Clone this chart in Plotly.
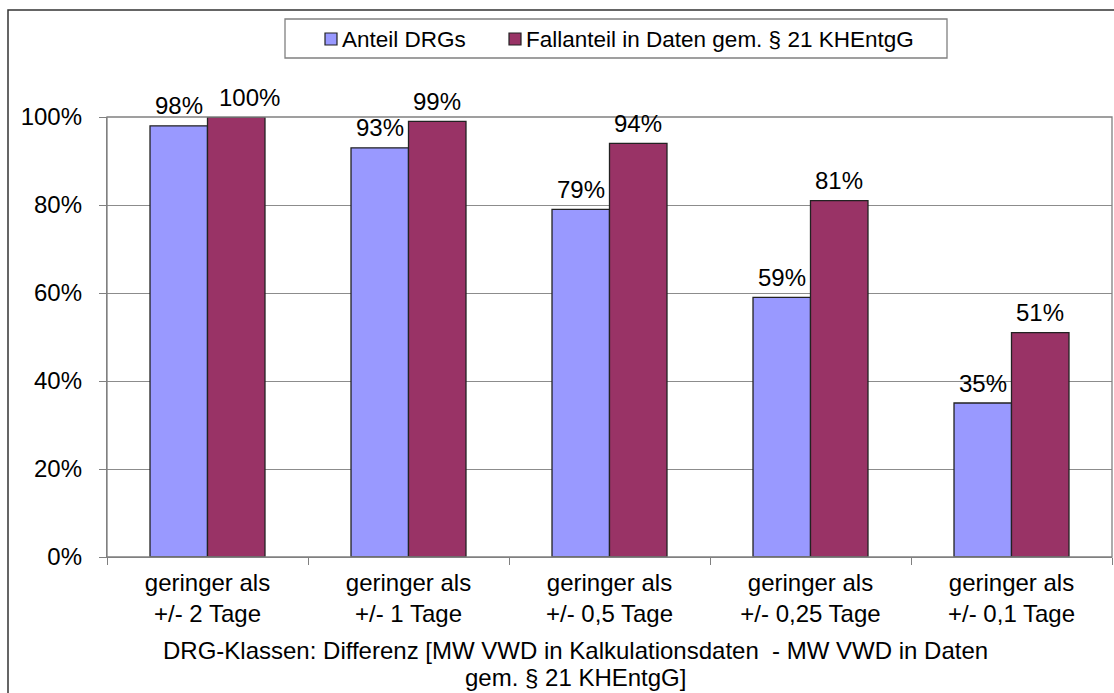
import plotly.graph_objects as go

categories = [
    "geringer als<br>+/- 2 Tage",
    "geringer als<br>+/- 1 Tage",
    "geringer als<br>+/- 0,5 Tage",
    "geringer als<br>+/- 0,25 Tage",
    "geringer als<br>+/- 0,1 Tage",
]
series_names = ["Anteil DRGs", "Fallanteil in Daten gem. § 21 KHEntgG"]
anteil_drgs = [98, 93, 79, 59, 35]
fallanteil = [100, 99, 94, 81, 51]
y_ticks = [0, 20, 40, 60, 80, 100]
title_lines = [
    "DRG-Klassen: Differenz [MW VWD in Kalkulationsdaten  - MW VWD in Daten",
    "gem. § 21 KHEntgG]",
]

FONT = "Liberation Sans, Arial, sans-serif"
FS = 24
LEG_FS = 22.5
COLORS = ["#9999FF", "#993366"]
EDGE = "#222222"
W, H = 1114, 693
L, R, T, B = 107, 2, 117, 136
pw, ph = W - L - R, H - T - B
BARGAP = 0.428
bar_px = pw / len(categories) * (1 - BARGAP) / 2


def px_x(x):
    return (x - L) / pw


def px_y(y):
    return (H - B - y) / ph


fig = go.Figure()
for name, vals, color in zip(series_names, [anteil_drgs, fallanteil], COLORS):
    fig.add_trace(go.Bar(
        name=name, x=categories, y=vals,
        marker=dict(color=color, line=dict(color=EDGE, width=1.3)),
        cliponaxis=False,
    ))

# value labels above each bar
for side, vals in [(-1, anteil_drgs), (1, fallanteil)]:
    for cat, v in zip(categories, vals):
        nudge = 13 if (side == 1 and v == 100) else 0
        fig.add_annotation(
            x=cat, y=v, xref="x", yref="y",
            xshift=side * bar_px / 2 + nudge, yshift=20,
            text=f"{v}%", showarrow=False,
            xanchor="center", yanchor="middle",
            font=dict(size=FS, family=FONT, color="#000000"),
        )

fig.update_layout(
    width=W, height=H,
    margin=dict(l=L, r=R, t=T, b=B, pad=0),
    paper_bgcolor="white", plot_bgcolor="white",
    font=dict(family=FONT, size=FS, color="#000000"),
    barmode="group", bargap=BARGAP, bargroupgap=0,
    showlegend=False,
)

fig.update_xaxes(
    showgrid=False, showline=True, linecolor="#808080", linewidth=1.3,
    ticks="outside", tickson="boundaries", ticklen=7, tickcolor="#808080",
    tickfont=dict(size=FS, family=FONT), ticklabelstandoff=4,
)
fig.update_yaxes(
    range=[0, 100], tickvals=y_ticks, ticktext=[f"{v}%" for v in y_ticks],
    showgrid=True, gridcolor="#8c8c8c", gridwidth=1.3,
    showline=True, linecolor="#808080", linewidth=1.3,
    ticks="outside", ticklen=7, tickcolor="#808080",
    tickfont=dict(size=FS, family=FONT), ticklabelstandoff=12,
    zeroline=False,
)

# plot area frame and outer chart border
fig.add_shape(type="rect", xref="paper", yref="paper", x0=0, x1=1, y0=0, y1=1,
              line=dict(color="#808080", width=1.3), layer="above")
fig.add_shape(type="path", xref="paper", yref="paper",
              path=f"M {px_x(8)} {px_y(700)} L {px_x(8)} {px_y(10)} L {px_x(1120)} {px_y(10)}",
              line=dict(color="#333333", width=1.5))

# legend box with swatches
fig.add_shape(type="rect", xref="paper", yref="paper",
              x0=px_x(285), x1=px_x(947), y0=px_y(58), y1=px_y(19),
              line=dict(color="#808080", width=1.3), fillcolor="white")
for name, color, sx in zip(series_names, COLORS, [325, 509]):
    fig.add_shape(type="rect", xref="paper", yref="paper",
                  x0=px_x(sx), x1=px_x(sx + 12), y0=px_y(45), y1=px_y(33),
                  line=dict(color=EDGE, width=1.2), fillcolor=color)
    fig.add_annotation(
        xref="paper", yref="paper", x=px_x(sx + 16), y=px_y(39),
        xanchor="left", yanchor="middle", showarrow=False,
        text=name, font=dict(size=LEG_FS, family=FONT, color="#000000"),
        borderpad=0,
    )

# axis title, two centred lines
for line, yc in zip(title_lines, [650, 677]):
    fig.add_annotation(
        xref="paper", yref="paper", x=px_x(575), y=px_y(yc),
        xanchor="center", yanchor="middle", showarrow=False,
        text=line, font=dict(size=FS, family=FONT, color="#000000"),
    )

fig.write_html("out.html")
